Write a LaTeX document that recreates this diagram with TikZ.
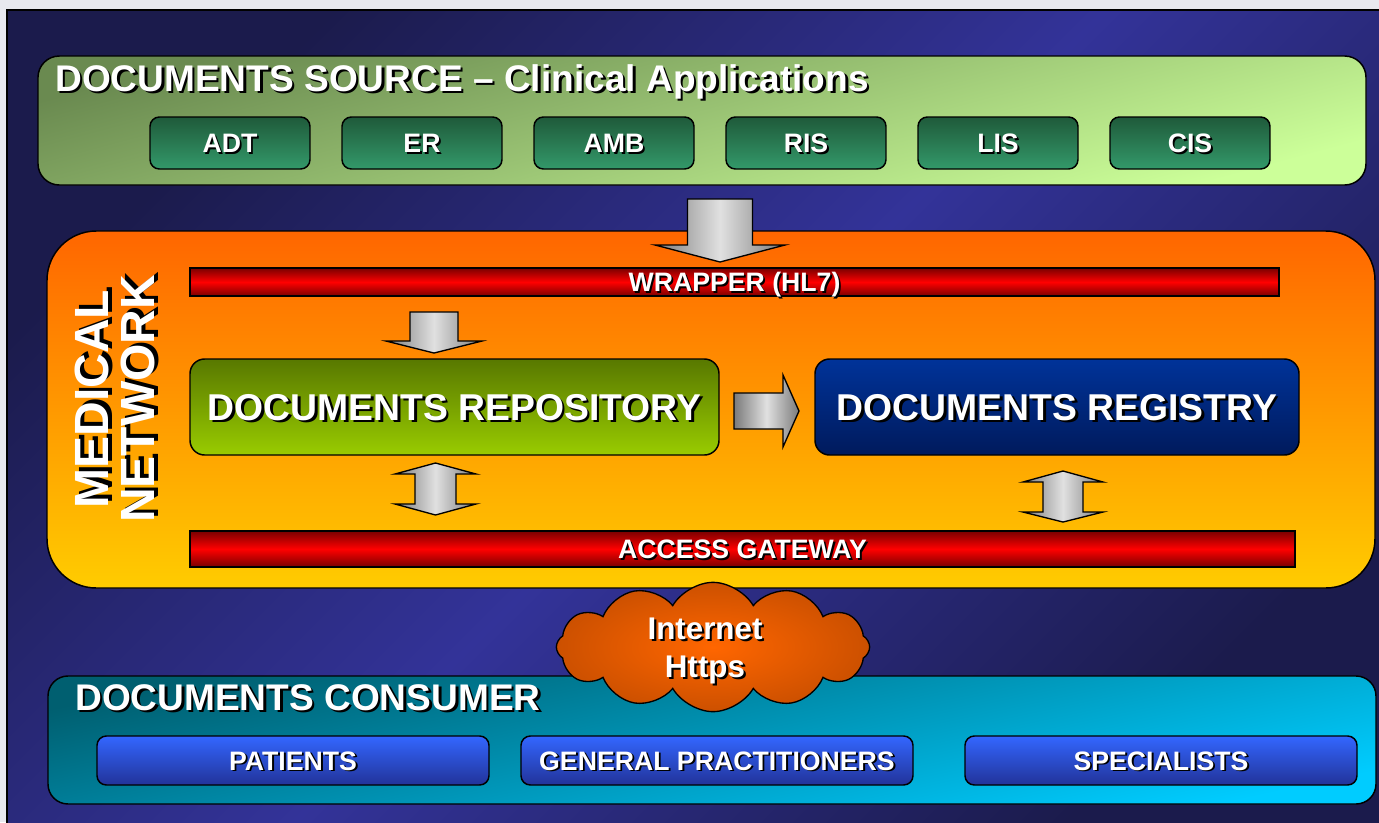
\documentclass[tikz,border=0pt]{standalone}
\usepackage{fontspec}
\setmainfont{Liberation Sans}
\usetikzlibrary{shapes.symbols}

\definecolor{bgDark}{HTML}{1B1B4C}
\definecolor{bgMid}{HTML}{333399}
\definecolor{srcTop}{HTML}{6A8A50}
\definecolor{srcBot}{HTML}{CCFF99}
\definecolor{appTop}{HTML}{1F5A3A}
\definecolor{appBot}{HTML}{33996A}
\definecolor{netTop}{HTML}{FF6600}
\definecolor{netBot}{HTML}{FFCC00}
\definecolor{barDark}{HTML}{7A0000}
\definecolor{repTop}{HTML}{587800}
\definecolor{repBot}{HTML}{99CC00}
\definecolor{regTop}{HTML}{003399}
\definecolor{regBot}{HTML}{001A5C}
\definecolor{conTop}{HTML}{005F70}
\definecolor{conBot}{HTML}{00CCFF}
\definecolor{usrTop}{HTML}{3366FF}
\definecolor{usrBot}{HTML}{223399}
\definecolor{cloudIn}{HTML}{FF6600}
\definecolor{cloudOut}{HTML}{CC5000}

% white text with a dark drop shadow
\newcommand{\sh}[1]{\rlap{\kern.07em\raisebox{-.07em}{\color{black}#1}}{\color{white}#1}}
% block arrows
\newcommand{\downarr}[6]{\shade[blockarrow] (#1-#5,#2) -- (#1+#5,#2) -- (#1+#5,#3) -- (#1+#6,#3) -- (#1,#4) -- (#1-#6,#3) -- (#1-#5,#3) -- cycle;}
\newcommand{\updownarr}[7]{\shade[blockarrow] (#1,#2) -- (#1+#7,#3) -- (#1+#6,#3) -- (#1+#6,#4) -- (#1+#7,#4) -- (#1,#5) -- (#1-#7,#4) -- (#1-#6,#4) -- (#1-#6,#3) -- (#1-#7,#3) -- cycle;}

\tikzset{
  panel/.style={draw=black, line width=1.1pt, inner sep=0pt},
  smallcaps/.style={text height=14.3pt, text depth=0pt, font=\fontsize{20}{22}\selectfont\bfseries},
  appbox/.style={draw=black, line width=1.1pt, rounded corners=7pt, top color=appTop, bottom color=appBot, smallcaps,
    minimum width=120pt, minimum height=39pt, inner sep=0pt},
  bar/.style={draw=black, line width=1pt, top color=barDark, bottom color=barDark, middle color=red, smallcaps,
    inner sep=0pt},
  bigbox/.style={draw=black, line width=1.1pt, rounded corners=11pt, minimum width=#1, minimum height=72pt,
    text height=20pt, text depth=0pt, inner sep=0pt, font=\fontsize{28}{30}\selectfont\bfseries},
  userbox/.style={draw=black, line width=1.1pt, rounded corners=7pt, top color=usrTop, bottom color=usrBot, smallcaps,
    minimum width=294pt, minimum height=36.75pt, inner sep=0pt},
  blockarrow/.style={draw=black, line width=1pt, left color=black!52, right color=black!52, middle color=black!12},
  title/.style={anchor=base west, inner sep=0pt, font=\fontsize{27.8}{30}\selectfont\bfseries},
}

\begin{document}
\begin{tikzpicture}[x=0.75pt,y=-0.75pt]
\useasboundingbox (0,0) rectangle (1379,822);
\fill[color={rgb,255:red,232;green,233;blue,239}] (0,0) rectangle (1379,822);
\shade[top color=bgDark, bottom color=bgDark, middle color=bgMid, shading angle=45] (7,10) rectangle (1385,830);
\draw[line width=1pt] (7,830) -- (7,10) -- (1385,10);

% documents source
\node[panel, rounded corners=16pt, top color=srcTop, bottom color=srcBot, shading angle=15,
  minimum width=996pt, minimum height=96.75pt] (src) at (702,120.5) {};
\node[title] (srctitle) at (55,91) {\sh{DOCUMENTS SOURCE – Clinical Applications}};
\foreach \i/\v in {0/ADT,1/ER,2/AMB,3/RIS,4/LIS,5/CIS}
  \node[appbox] (app\i) at (230+192*\i,143) {\sh{\v}};

% medical network
\node[panel, rounded corners=37pt, top color=netTop, bottom color=netBot,
  minimum width=996pt, minimum height=267.75pt] (net) at (711,409.5) {};
\node[rotate=90, align=center, inner sep=0pt, font=\fontsize{36}{34.5}\selectfont\bfseries] (nettitle) at (117,399)
  {\sh{MEDICAL}\\\sh{NETWORK}};
\downarr{720}{199}{245}{262}{32.5}{65}
\node[bar, minimum width=816.75pt, minimum height=21pt] (wrap) at (734.5,282) {\sh{WRAPPER (HL7)}};
\downarr{434}{312}{341}{353}{24}{48}
\node[bigbox=396.75pt, top color=repTop, bottom color=repBot] (repo) at (454.5,407) {\sh{DOCUMENTS REPOSITORY}};
\node[bigbox=363pt, top color=regTop, bottom color=regBot] (reg) at (1057,407) {\sh{DOCUMENTS REGISTRY}};
\shade[blockarrow] (734,393) -- (783,393) -- (783,375) -- (799,411) -- (783,447) -- (783,429) -- (734,429) -- cycle;
\updownarr{435.5}{463}{474}{504}{515}{20.5}{40.5}
\updownarr{1063}{471}{482}{512}{522}{20}{40}
\node[bar, minimum width=828.75pt, minimum height=27pt] (gate) at (742.5,549) {\sh{ACCESS GATEWAY}};

% documents consumer
\node[panel, rounded corners=15pt, top color=conTop, bottom color=conBot, shading angle=12,
  minimum width=996pt, minimum height=96pt] (cons) at (712,740) {};
\node[title] (constitle) at (75,710) {\sh{DOCUMENTS CONSUMER}};
\node[userbox] (pat) at (293,760.5) {\sh{PATIENTS}};
\node[userbox] (gp) at (717,760.5) {\sh{GENERAL PRACTITIONERS}};
\node[userbox] (spec) at (1161,760.5) {\sh{SPECIALISTS}};

% internet cloud
\node[cloud, cloud puffs=12, cloud puff arc=120, cloud ignores aspect, draw=black, line width=1pt,
  inner color=cloudIn, outer color=cloudOut, inner sep=0pt, minimum width=235pt, minimum height=97pt] (web) at (713,647) {};
\node[align=center, inner sep=0pt, font=\fontsize{23.5}{28}\selectfont\bfseries] (webtext) at (705,652) {\sh{Internet}\\\sh{Https}};
\end{tikzpicture}
\end{document}
